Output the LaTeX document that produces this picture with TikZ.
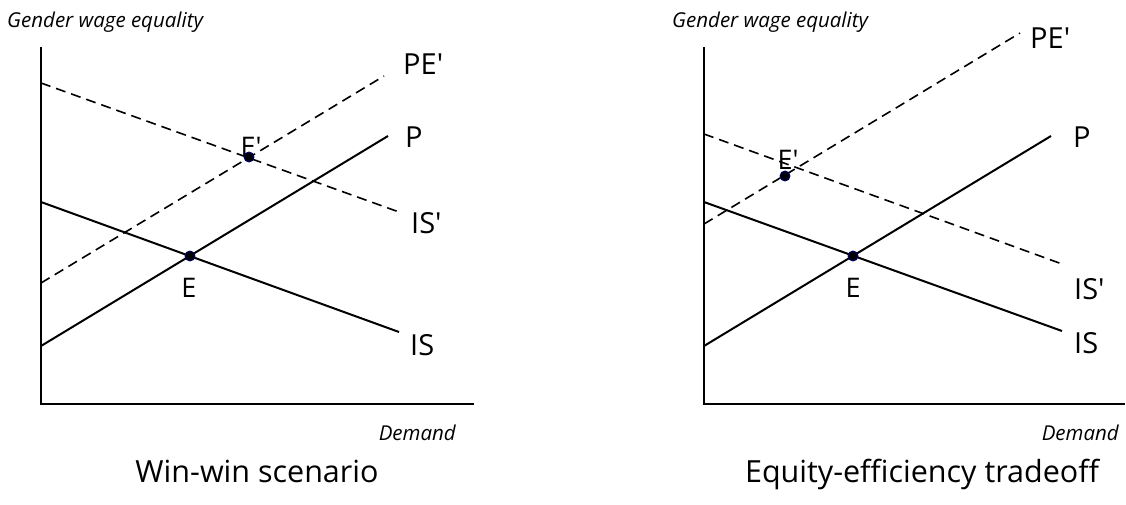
\documentclass[tikz,border=0pt]{standalone}
\usepackage{fontspec}
\setmainfont{Open Sans}
\usepackage{tikz}
\usetikzlibrary{calc}

\tikzset{
  axis/.style={line width=2.4pt},
  curve/.style={line width=2pt},
  shifted/.style={line width=1.6pt, dash pattern=on 10pt off 6pt},
  eqpt/.style={circle, fill=black, draw=black!55!blue, line width=0.9pt,
    inner sep=0pt, minimum size=10pt},
  curvelabel/.style={anchor=base west, inner sep=0pt,
    font=\fontsize{29}{31}\selectfont},
  ptlabel/.style={anchor=base, inner sep=0pt,
    font=\fontsize{27}{29}\selectfont},
  axislabel/.style={inner sep=0pt, font=\fontsize{20.5}{22}\selectfont\itshape},
  caption/.style={anchor=base, inner sep=0pt,
    font=\fontsize{30.5}{33}\selectfont}
}

\begin{document}
\begin{tikzpicture}[x=1pt,y=-1pt]
  \useasboundingbox (0,0) rectangle (1126,505);

  % ---- left panel: win-win ----
  \coordinate (LO) at (41,404);
  \coordinate (LT) at (41,47);
  \coordinate (LR) at (474,404);
  \draw [axis] (LT) -- (LO) -- (LR);
  \node [axislabel,anchor=base west] (LY) at (7,28) {Gender wage equality};
  \node [axislabel,anchor=base east] (LX) at (456,440) {Demand};
  % curves
  \coordinate (LISa) at (41,202);  \coordinate (LISb) at (399,332);
  \coordinate (LPa) at (41,346);   \coordinate (LPb) at (388,136);
  \coordinate (LISpa) at (41,83);  \coordinate (LISpb) at (399,212);
  \coordinate (LPEpa) at (41,283); \coordinate (LPEpb) at (384,76);
  \draw [curve] (LISa) -- (LISb);
  \draw [curve] (LPa) -- (LPb);
  \draw [shifted] (LISpa) -- (LISpb);
  \draw [shifted] (LPEpa) -- (LPEpb);
  \node [curvelabel] (LPE) at (403,75) {PE′};
  \node [curvelabel] (LP) at (405,148) {P};
  \node [curvelabel] (LISp) at (411,233) {IS′};
  \node [curvelabel] (LIS) at (410,355) {IS};
  % equilibria
  \node [ptlabel] (LEl) at (189,297) {E};
  \node [ptlabel] (LEpl) at (251,157) {E′};
  \node [eqpt] (LE) at (190,256) {};
  \node [eqpt] (LEp) at (249,157) {};
  \node [caption] (LC) at (257,482) {Win-win scenario};

  % ---- right panel: tradeoff ----
  \coordinate (RO) at (704,404);
  \coordinate (RT) at (704,47);
  \coordinate (RR) at (1125,404);
  \draw [axis] (RT) -- (RO) -- (RR);
  \node [axislabel,anchor=base west] (RY) at (672,28) {Gender wage equality};
  \node [axislabel,anchor=base east] (RX) at (1119,440) {Demand};
  % curves
  \coordinate (RISa) at (704,202);  \coordinate (RISb) at (1062,331);
  \coordinate (RPa) at (704,346);   \coordinate (RPb) at (1051,136);
  \coordinate (RISpa) at (704,134); \coordinate (RISpb) at (1062,264);
  \coordinate (RPEpa) at (704,224); \coordinate (RPEpb) at (1020,33);
  \draw [curve] (RISa) -- (RISb);
  \draw [curve] (RPa) -- (RPb);
  \draw [shifted] (RISpa) -- (RISpb);
  \draw [shifted] (RPEpa) -- (RPEpb);
  \node [curvelabel] (RPE) at (1030,49) {PE′};
  \node [curvelabel] (RP) at (1073,148) {P};
  \node [curvelabel] (RISp) at (1074,299) {IS′};
  \node [curvelabel] (RIS) at (1074,353) {IS};
  % equilibria
  \node [ptlabel] (REl) at (853,297) {E};
  \node [ptlabel] (REpl) at (788,170) {E′};
  \node [eqpt] (RE) at (853,256) {};
  \node [eqpt] (REp) at (785,176) {};
  \node [caption] (RC) at (922,482) {Equity-efficiency tradeoff};
\end{tikzpicture}
\end{document}
